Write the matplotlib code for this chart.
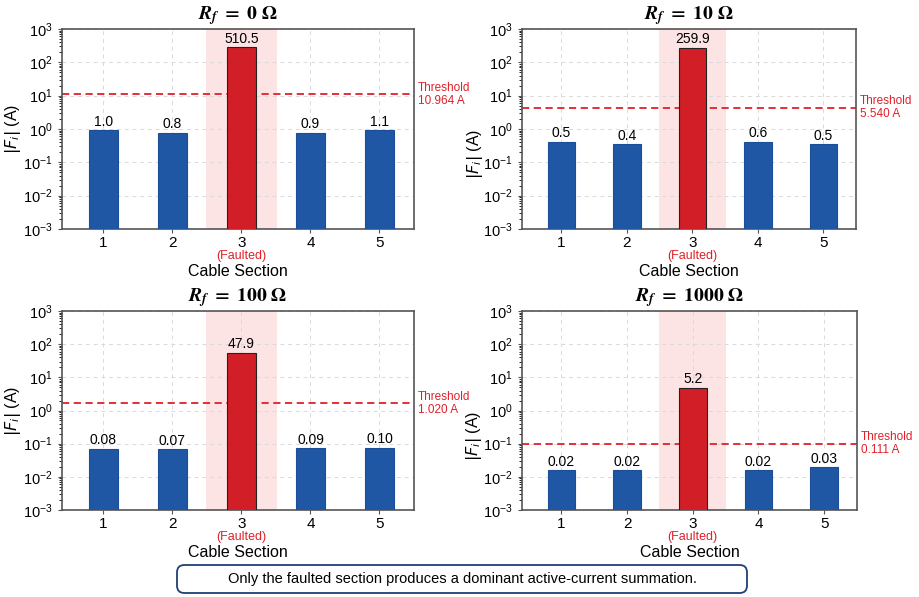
import matplotlib.pyplot as plt
import numpy as np
from matplotlib.ticker import LogLocator, NullFormatter
from matplotlib.patches import FancyBboxPatch

plt.rcParams['font.family'] = ['Liberation Sans', 'DejaVu Sans']

sections = [1, 2, 3, 4, 5]
rf_values = ['0', '10', '100', '1000']

# bar heights as drawn in the picture
heights_0 = [0.91, 0.78, 282, 0.78, 0.91]
heights_10 = [0.41, 0.35, 269, 0.41, 0.35]
heights_100 = [0.069, 0.067, 54, 0.072, 0.075]
heights_1000 = [0.0158, 0.0158, 4.9, 0.0158, 0.0195]

# value labels printed above the bars
labels_0 = ['1.0', '0.8', '510.5', '0.9', '1.1']
labels_10 = ['0.5', '0.4', '259.9', '0.6', '0.5']
labels_100 = ['0.08', '0.07', '47.9', '0.09', '0.10']
labels_1000 = ['0.02', '0.02', '5.2', '0.02', '0.03']

# threshold line positions and their printed values
thr_lines = [10.964, 4.4, 1.66, 0.1]
thr_labels = ['10.964', '5.540', '1.020', '0.111']

all_heights = [heights_0, heights_10, heights_100, heights_1000]
all_labels = [labels_0, labels_10, labels_100, labels_1000]

blue = '#1f57a5'
red = '#d21f27'
thr_red = '#e0202a'

fig = plt.figure(figsize=(9.19, 5.97), dpi=100)
W, H = 919, 597
boxes = [(62, 29, 414, 229), (522, 29, 856, 229),
         (62, 311, 414, 510), (522, 311, 857, 510)]

for k in range(4):
    x0, y0, x1, y1 = boxes[k]
    ax = fig.add_axes([x0 / W, 1 - y1 / H, (x1 - x0) / W, (y1 - y0) / H])
    h = all_heights[k]
    colors = [blue, blue, red, blue, blue]
    ax.axvspan(2.49, 3.51, color='#fde4e4', lw=0, zorder=0)
    ax.bar(sections, h, width=0.42, color=colors,
           edgecolor=['#1d4d94'] * 2 + ['#222222'] + ['#1d4d94'] * 2,
           linewidth=0.8, zorder=3)
    for xi, hi, lab in zip(sections, h, all_labels[k]):
        ax.text(xi, hi * 1.12, lab, ha='center', va='bottom', fontsize=10, zorder=4)
    ax.axhline(thr_lines[k], color=thr_red, ls='--', lw=1.3, dashes=(4, 2.5), zorder=2)
    ax.text(1.012, thr_lines[k], 'Threshold\n' + thr_labels[k] + ' A', transform=ax.get_yaxis_transform(),
            color=thr_red, fontsize=8.5, ha='left', va='center', linespacing=1.1)
    ax.set_yscale('log')
    ax.set_ylim(1e-3, 1e3)
    ax.set_xlim(0.4, 5.5)
    ax.set_xticks(sections)
    ax.set_xticklabels([str(s) for s in sections], fontsize=11)
    ax.yaxis.set_major_locator(LogLocator(base=10, numticks=10))
    ax.yaxis.set_minor_locator(LogLocator(base=10, subs=np.arange(2, 10), numticks=10))
    ax.yaxis.set_minor_formatter(NullFormatter())
    ax.tick_params(axis='y', labelsize=10.5, colors='#333333', labelcolor='black')
    ax.tick_params(axis='both', direction='out', length=3, color='#555555')
    ax.tick_params(axis='x', pad=2)
    ax.tick_params(axis='y', which='minor', length=2)
    ax.grid(True, which='major', ls=(0, (4, 4)), color='#d9d9d9', lw=0.7, zorder=1)
    for s in ax.spines.values():
        s.set_color('#555555')
        s.set_linewidth(1.2)
    ax.set_ylabel(r'$|F_i|$ (A)', fontsize=11.5)
    ax.yaxis.label.set_math_fontfamily('dejavusans')
    if k % 2 == 0:
        ax.yaxis.set_label_coords(-0.112, 0.5)
    else:
        ax.yaxis.set_label_coords(-0.112, 0.375)
    ax.set_xlabel('Cable Section', fontsize=11.5, labelpad=10)
    ax.text(3, -0.105, '(Faulted)', transform=ax.get_xaxis_transform(), color=thr_red,
            fontsize=9, ha='center', va='top')
    t = ax.set_title(r'$\mathbfit{R_f}\ \mathbf{=\ ' + rf_values[k] + r'\ \Omega}$', fontsize=14, pad=7)
    t.set_math_fontfamily('stix')

note_box = FancyBboxPatch((177 / W, 1 - 593 / H), 570 / W, 28 / H,
                          boxstyle='round,pad=0,rounding_size=0.008', transform=fig.transFigure,
                          fc='white', ec='#1f3f7a', lw=1.3, mutation_aspect=W / H)
fig.patches.append(note_box)
fig.text(462 / W, 1 - 579 / H, 'Only the faulted section produces a dominant active-current summation.',
         ha='center', va='center', fontsize=10.5)

fig.savefig('out.png', dpi=100)
